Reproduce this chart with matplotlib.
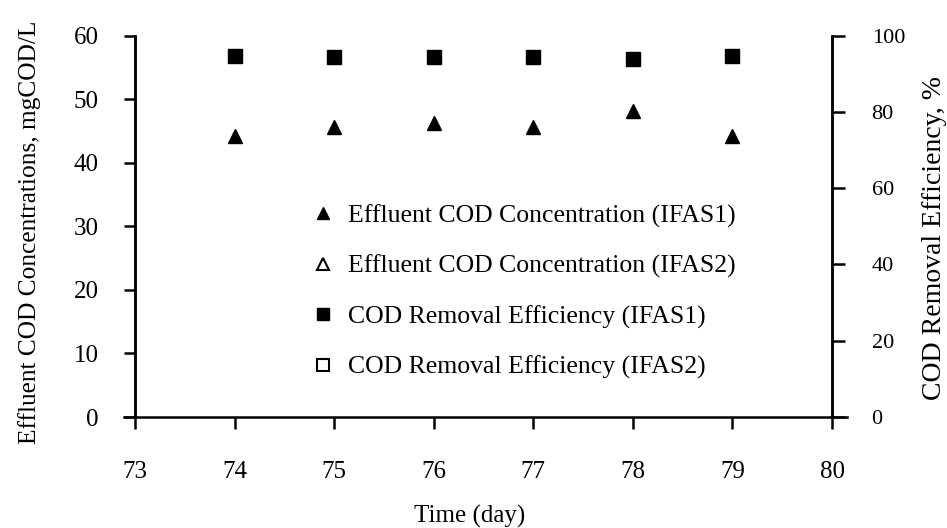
import matplotlib.pyplot as plt

plt.rcParams["font.family"] = ["Liberation Serif", "DejaVu Serif"]

days = [74, 75, 76, 77, 78, 79]
effluent_ifas1 = [44.2, 45.7, 46.3, 45.6, 48.1, 44.2]
removal_ifas1 = [94.8, 94.5, 94.5, 94.5, 93.8, 94.8]
# IFAS2 points do not show in the picture, only in the legend
days_ifas2 = []
effluent_ifas2 = []
removal_ifas2 = []

x_ticks = [73, 74, 75, 76, 77, 78, 79, 80]
left_ticks = [0, 10, 20, 30, 40, 50, 60]
right_ticks = [0, 20, 40, 60, 80, 100]

fig = plt.figure(figsize=(9.47, 5.28), dpi=100)
ax = fig.add_axes([0.1426, 0.2102, 0.736, 0.7222])
ax2 = ax.twinx()

l1, = ax.plot(days, effluent_ifas1, linestyle="none", marker="^", markersize=10.3,
              color="black", label="Effluent COD Concentration (IFAS1)")
l2, = ax.plot(days_ifas2, effluent_ifas2, linestyle="none", marker="^", markersize=10.3,
              markerfacecolor="white", markeredgecolor="black", markeredgewidth=1.5,
              label="Effluent COD Concentration (IFAS2)")
l3, = ax2.plot(days, removal_ifas1, linestyle="none", marker="s", markersize=10.3,
               color="black", label="COD Removal Efficiency (IFAS1)")
l4, = ax2.plot(days_ifas2, removal_ifas2, linestyle="none", marker="s", markersize=10.3,
               markerfacecolor="white", markeredgecolor="black", markeredgewidth=1.5,
               label="COD Removal Efficiency (IFAS2)")

ax.set_xlim(73, 80)
ax.set_ylim(0, 60)
ax2.set_ylim(0, 100)
ax.set_xticks(x_ticks)
ax.set_yticks(left_ticks)
ax2.set_yticks(right_ticks)

lw = 1.8
for a in (ax, ax2):
    a.spines["top"].set_visible(False)
    a.spines["bottom"].set_visible(False)
    a.spines["left"].set_linewidth(lw)
    a.spines["right"].set_linewidth(lw)

# x axis line runs a little past both vertical axes
ax.plot([-0.016, 1.021], [0, 0], transform=ax.transAxes, color="black",
        linewidth=lw, clip_on=False, zorder=5)

ax.tick_params(axis="x", direction="out", length=8.5, width=lw, pad=23, labelsize=18)
ax.tick_params(axis="y", direction="out", length=8, width=lw, pad=18, labelsize=18)
ax2.tick_params(axis="y", direction="out", length=9.5, width=lw, pad=19, labelsize=16)

ax.set_xlabel("Time (day)", fontsize=18)
ax.xaxis.set_label_coords(0.4806, -0.23)
ax.set_ylabel("Effluent COD Concentrations, mgCOD/L", fontsize=18.3)
ax.yaxis.set_label_coords(-0.1356, 0.485)
ax2.set_ylabel("COD Removal Efficiency, %", fontsize=20)
ax2.yaxis.set_label_coords(1.129, 0.469)

ax.legend(handles=[l1, l2, l3, l4], loc="center left", bbox_to_anchor=(0.2507, 0.3286),
          frameon=False, fontsize=18.5, labelspacing=1.05, handletextpad=0.5,
          handlelength=1.0, markerscale=0.9, borderpad=0, borderaxespad=0)

fig.savefig("out.png", dpi=100)
